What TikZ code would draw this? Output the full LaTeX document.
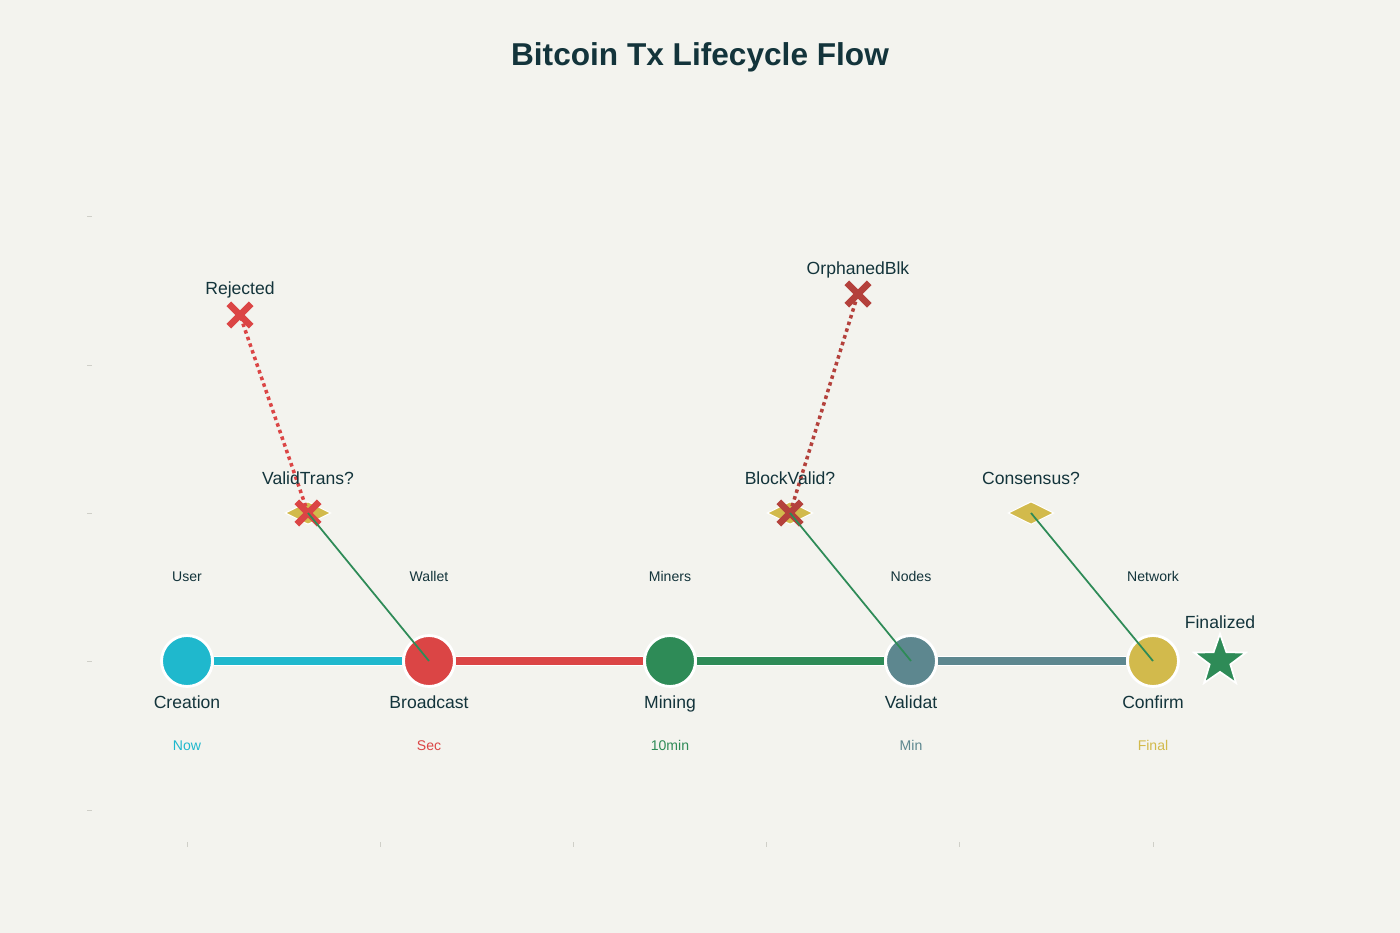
\documentclass[tikz,border=0pt]{standalone}
\usepackage{fontspec}
\setmainfont{Liberation Sans}
\usetikzlibrary{shapes.geometric, shapes.misc, positioning}
\definecolor{bgpaper}{HTML}{F3F3EE}
\definecolor{titlecol}{HTML}{13343B}
\definecolor{cyanc}{HTML}{1FB8CD}
\definecolor{redc}{HTML}{DB4545}
\definecolor{greenc}{HTML}{2E8B57}
\definecolor{slatec}{HTML}{5D878F}
\definecolor{goldc}{HTML}{D2BA4C}
\definecolor{darkred}{HTML}{B4413C}
\definecolor{tickc}{HTML}{CFCFC8}
\tikzset{
  stage/.style={circle, draw=white, line width=1.6pt, minimum size=29pt, inner sep=0pt},
  decision/.style={diamond, fill=goldc, draw=white, line width=0.6pt, minimum width=26pt, minimum height=13pt, inner sep=0pt},
  cross/.style={cross out, draw=#1, line width=3.8pt, minimum size=9pt, inner sep=0pt},
  link/.style={line width=4pt, draw=#1},
  lbl/.style={font=\fontsize{10}{12}\selectfont, text=titlecol, text height=7pt, text depth=2pt},
  small/.style={font=\fontsize{8}{10}\selectfont, text=titlecol, text height=6pt, text depth=1.5pt},
}
\begin{document}
\begin{tikzpicture}[x=0.02cm, y=-0.02cm]
		% background and bounding box
		\fill[bgpaper] (0,0) rectangle (1400,933);
		\useasboundingbox (0,0) rectangle (1400,933);
		
		% title
		\node[font=\bfseries\fontsize{18}{22}\selectfont, text=titlecol] (title) at (700,57) {Bitcoin Tx Lifecycle Flow};
		
		% axis ticks
		\foreach \y in {216,365,513,661,810} \draw[tickc, line width=0.4pt] (87,\y) -- (92,\y);
		\foreach \x in {187,380,573,766,959,1153} \draw[tickc, line width=0.4pt] (\x,842) -- (\x,847);
		
		% stage circles
		\node[stage, fill=cyanc] (creation) at (187,661) {};
		\node[stage, fill=redc] (broadcast) at (429,661) {};
		\node[stage, fill=greenc] (mining) at (670,661) {};
		\node[stage, fill=slatec] (validat) at (911,661) {};
		\node[stage, fill=goldc] (confirm) at (1153,661) {};
		
		% connectors between stages
		\draw[white, line width=6pt] (creation) -- (broadcast) -- (mining) -- (validat) -- (confirm);
		\draw[link=cyanc] (creation) -- (broadcast);
		\draw[link=redc] (broadcast) -- (mining);
		\draw[link=greenc] (mining) -- (validat);
		\draw[link=slatec] (validat) -- (confirm);
		
		% decision diamonds
		\node[decision] (validtrans) at (308,513) {};
		\node[decision] (blockvalid) at (790,513) {};
		\node[decision] (consensus) at (1031,513) {};
		
		% failure markers
		\coordinate (rejected) at (240,315);
		\coordinate (orphaned) at (858,294);
		\draw[redc, dotted, line width=2pt] (validtrans.center) -- (rejected);
		\draw[darkred, dotted, line width=2pt] (blockvalid.center) -- (orphaned);
		\node[cross=redc] (xrej) at (rejected) {};
		\node[cross=redc] (xvt) at (validtrans) {};
		\node[cross=darkred] (xorph) at (orphaned) {};
		\node[cross=darkred] (xbv) at (blockvalid) {};
		
		% green branches
		\draw[greenc, line width=1pt] (broadcast.center) -- (validtrans.center);
		\draw[greenc, line width=1pt] (validat.center) -- (blockvalid.center);
		\draw[greenc, line width=1pt] (confirm.center) -- (consensus.center);
		
		% final star
		\node[star, star points=5, star point ratio=2.5, fill=greenc, draw=white, line width=1pt, minimum size=31pt, inner sep=0pt] (final) at (1220,661) {};
		
		% labels
		\node[lbl] at (240,290) {Rejected};
		\node[lbl] at (858,270) {OrphanedBlk};
		\node[lbl] at (308,480) {ValidTrans?};
		\node[lbl] at (790,480) {BlockValid?};
		\node[lbl] at (1031,480) {Consensus?};
		\node[lbl] at (1220,624) {Finalized};
		
		\foreach \n/\a/\b/\t/\c in {creation/User/Creation/Now/cyanc, broadcast/Wallet/Broadcast/Sec/redc, mining/Miners/Mining/10min/greenc, validat/Nodes/Validat/Min/slatec, confirm/Network/Confirm/Final/goldc}{
			\node[small] at ([yshift=83*0.02cm]\n.center) {\a};
			\node[lbl] at ([yshift=-43*0.02cm]\n.center) {\b};
			\node[small, text=\c] at ([yshift=-86*0.02cm]\n.center) {\t};
		}
	\end{tikzpicture}
\end{document}
